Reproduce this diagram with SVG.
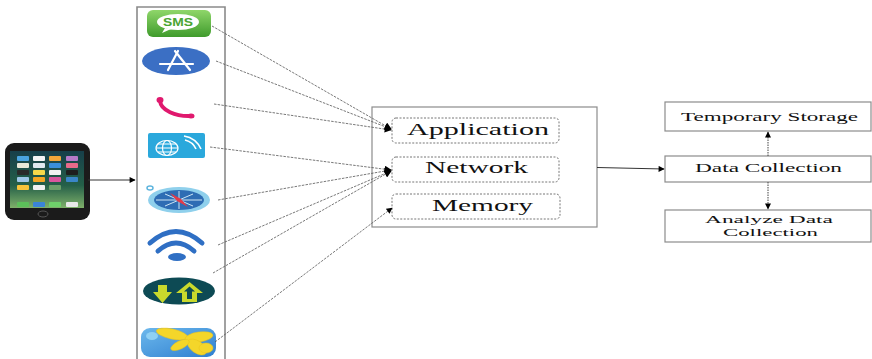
<svg xmlns="http://www.w3.org/2000/svg" width="872" height="359" viewBox="0 0 872 359">
  <style>
    .frame { fill: none; stroke: #8a8a8a; stroke-width: 1.6; }
    .box { fill: #ffffff; stroke: #8c8c8c; stroke-width: 1.2; }
    .sub { fill: #ffffff; stroke: #777777; stroke-width: 1; stroke-dasharray: 2 1.5; }
    .lbl { font-family: "Liberation Serif", "Times New Roman", serif; fill: #111111; }
    .big { font-size: 16px; }
    .small { font-size: 12px; }
    .tiny { font-size: 11px; }
    .link { fill: none; stroke: #555555; stroke-width: 0.8; stroke-dasharray: 2.5 1.2; }
    .solid { fill: none; stroke: #333333; stroke-width: 1; }
    .dot { fill: none; stroke: #444444; stroke-width: 1; stroke-dasharray: 1.5 1; }
  </style>
  <defs>
    <marker id="head" viewBox="0 0 10 10" refX="9" refY="5" markerWidth="7" markerHeight="6" orient="auto" markerUnits="userSpaceOnUse">
      <path d="M0,0 L10,5 L0,10 Z" fill="#000000"/>
    </marker>
    <marker id="headBig" viewBox="0 0 10 10" refX="9" refY="5" markerWidth="9" markerHeight="7" orient="auto" markerUnits="userSpaceOnUse">
      <path d="M0,0 L10,5 L0,10 Z" fill="#000000"/>
    </marker>
    <linearGradient id="smsG" x1="0" y1="0" x2="0" y2="1">
      <stop offset="0" stop-color="#8fd66a"/>
      <stop offset="1" stop-color="#3f9b2c"/>
    </linearGradient>
    <linearGradient id="photoG" x1="0" y1="0" x2="1" y2="1">
      <stop offset="0" stop-color="#6cb8ec"/>
      <stop offset="1" stop-color="#2f7fd0"/>
    </linearGradient>
    <linearGradient id="screenG" x1="0" y1="0" x2="0" y2="1">
      <stop offset="0" stop-color="#173f4a"/>
      <stop offset="0.6" stop-color="#245f48"/>
      <stop offset="1" stop-color="#7fb06a"/>
    </linearGradient>
  </defs>

  <!-- handset -->
  <g id="phone">
    <rect x="5" y="143" width="85" height="77" rx="9" fill="#1b1b1b"/>
    <rect x="10" y="151" width="74" height="57" fill="url(#screenG)"/>
    <g>
      <rect x="17" y="156" width="12" height="5" rx="1" fill="#4aa3df"/>
      <rect x="33" y="156" width="12" height="5" rx="1" fill="#f4f4f4"/>
      <rect x="49" y="156" width="12" height="5" rx="1" fill="#f0a63a"/>
      <rect x="66" y="156" width="12" height="5" rx="1" fill="#b77ac8"/>
      <rect x="17" y="163" width="12" height="5" rx="1" fill="#e8e8d8"/>
      <rect x="33" y="163" width="12" height="5" rx="1" fill="#dfe9f0"/>
      <rect x="49" y="163" width="12" height="5" rx="1" fill="#3a8fd8"/>
      <rect x="66" y="163" width="12" height="5" rx="1" fill="#e86a8a"/>
      <rect x="17" y="170" width="12" height="5" rx="1" fill="#2a2a2a"/>
      <rect x="33" y="170" width="12" height="5" rx="1" fill="#f7d84a"/>
      <rect x="49" y="170" width="12" height="5" rx="1" fill="#f2f2f2"/>
      <rect x="66" y="170" width="12" height="5" rx="1" fill="#1e1e1e"/>
      <rect x="17" y="177" width="12" height="5" rx="1" fill="#9ec7e8"/>
      <rect x="33" y="177" width="12" height="5" rx="1" fill="#f5a623"/>
      <rect x="49" y="177" width="12" height="5" rx="1" fill="#d9569e"/>
      <rect x="66" y="177" width="12" height="5" rx="1" fill="#3a86c8"/>
      <rect x="17" y="185" width="12" height="5" rx="1" fill="#f6c33b"/>
      <rect x="33" y="185" width="12" height="5" rx="1" fill="#f1f1f1"/>
      <rect x="49" y="185" width="12" height="5" rx="1" fill="#6aa06a"/>
      <rect x="17" y="202" width="12" height="5" rx="1" fill="#5cc05a"/>
      <rect x="33" y="202" width="12" height="5" rx="1" fill="#3a84d8"/>
      <rect x="49" y="202" width="12" height="5" rx="1" fill="#6ed06a"/>
      <rect x="66" y="202" width="12" height="5" rx="1" fill="#e8e8e8"/>
    </g>
    <ellipse cx="43" cy="214" rx="5" ry="3" fill="none" stroke="#555555" stroke-width="1"/>
  </g>

  <!-- app column -->
  <g id="apps">
    <path class="frame" d="M137,359 V7 H225 V359"/>

    <!-- messages -->
    <rect x="147" y="10" width="64" height="27" rx="6" fill="url(#smsG)"/>
    <ellipse cx="178" cy="22" rx="21" ry="8" fill="#ffffff"/>
    <path d="M165,28 L162,33 L171,29 Z" fill="#ffffff"/>
    <text x="178" y="26" text-anchor="middle" font-family="Liberation Sans, Arial, sans-serif" font-size="11" font-weight="bold" fill="#4aa532" textLength="30" lengthAdjust="spacingAndGlyphs">SMS</text>

    <!-- store -->
    <ellipse cx="176" cy="61" rx="34" ry="14" fill="#3b6fc4"/>
    <g stroke="#ffffff" stroke-width="2.2" stroke-linecap="round" fill="none">
      <path d="M168,70 L178,51"/>
      <path d="M175,51 L190,70"/>
      <path d="M160,64 L193,64"/>
    </g>

    <!-- phone call -->
    <path d="M160,101 C161,110 175,117 192,116" fill="none" stroke="#e0196e" stroke-width="4" stroke-linecap="round"/>
    <ellipse cx="160" cy="100" rx="3.5" ry="3" fill="#e0196e"/>
    <ellipse cx="191" cy="116" rx="3.5" ry="2.5" fill="#e0196e"/>

    <!-- web -->
    <rect x="148" y="133" width="57" height="25" rx="2" fill="#2aa8dc"/>
    <g stroke="#ffffff" stroke-width="1.2" fill="none">
      <ellipse cx="167" cy="148" rx="11" ry="7.5"/>
      <ellipse cx="167" cy="148" rx="4.5" ry="7.5"/>
      <path d="M156,148 H178 M158,144 H176 M158,152 H176"/>
      <path d="M185,140 Q193,142 196,149" stroke-width="1.6"/>
      <path d="M184,136 Q196,138 201,149" stroke-width="1.6"/>
    </g>

    <!-- compass -->
    <ellipse cx="150" cy="188" rx="3" ry="2" fill="none" stroke="#5fb5de" stroke-width="1.5"/>
    <ellipse cx="179" cy="200" rx="31" ry="13" fill="#8fd0ec"/>
    <ellipse cx="179" cy="200" rx="25" ry="10" fill="#2e6db4"/>
    <g stroke="#dff2fb" stroke-width="0.9">
      <path d="M179,191 V209 M156,200 H202 M165,194 L193,206 M165,206 L193,194"/>
    </g>
    <path d="M170,193 L181,199 L188,207 L177,201 Z" fill="#e23b4a"/>

    <!-- wireless -->
    <g fill="none" stroke="#2f6fc4" stroke-width="5" stroke-linecap="round">
      <path d="M150,243 Q176,220 202,243"/>
      <path d="M158,251 Q176,235 194,251"/>
    </g>
    <ellipse cx="177" cy="257" rx="9" ry="4" fill="#2f6fc4"/>

    <!-- transfer -->
    <ellipse cx="179" cy="291" rx="36" ry="13.5" fill="#0d4a54"/>
    <path d="M158,285 H167 V292 H172 L162.5,303 L153,292 H158 Z" fill="#c9d92c"/>
    <path d="M189.5,282 L203,293 H197 V302 H182 V293 H176 Z" fill="#c9d92c"/>
    <path d="M189.5,286.5 L195,291.5 H192 V299 H187 V291.5 H184 Z" fill="#0d4a54"/>

    <!-- photos -->
    <rect x="141" y="328" width="75" height="29" rx="9" fill="url(#photoG)"/>
    <g fill="#f4d62a" stroke="#e8c21c" stroke-width="0.5">
      <ellipse cx="172" cy="334" rx="16" ry="5" transform="rotate(12 172 334)"/>
      <ellipse cx="199" cy="337" rx="14" ry="5" transform="rotate(-8 199 337)"/>
      <ellipse cx="197" cy="347" rx="11" ry="6" transform="rotate(35 197 347)"/>
      <ellipse cx="180" cy="345" rx="10" ry="4" transform="rotate(-25 180 345)"/>
      <ellipse cx="206" cy="348" rx="7" ry="5"/>
    </g>
    <ellipse cx="152" cy="336" rx="6" ry="4" fill="#8fd0f4"/>
  </g>

  <!-- aspects box -->
  <g id="aspects">
    <rect class="box" x="372" y="107" width="225" height="120"/>
  </g>
  <g id="application">
    <rect class="sub" x="392" y="118" width="167" height="25" rx="4"/>
    <text class="lbl big" x="407" y="135" textLength="142" lengthAdjust="spacingAndGlyphs">Application</text>
  </g>
  <g id="network">
    <rect class="sub" x="392" y="157" width="167" height="25" rx="4"/>
    <text class="lbl big" x="425" y="173" textLength="103" lengthAdjust="spacingAndGlyphs">Network</text>
  </g>
  <g id="memory">
    <rect class="sub" x="392" y="194" width="168" height="25" rx="4"/>
    <text class="lbl big" x="432" y="211" textLength="101" lengthAdjust="spacingAndGlyphs">Memory</text>
  </g>

  <!-- collection side -->
  <g id="temporary-storage">
    <rect class="box" x="665" y="102" width="206" height="29"/>
    <text class="lbl small" x="681" y="121" textLength="177" lengthAdjust="spacingAndGlyphs">Temporary Storage</text>
  </g>
  <g id="data-collection">
    <rect class="box" x="665" y="156" width="206" height="26"/>
    <text class="lbl small" x="695" y="172" textLength="147" lengthAdjust="spacingAndGlyphs">Data Collection</text>
  </g>
  <g id="analyze">
    <rect class="box" x="665" y="210" width="206" height="32"/>
    <text class="lbl tiny" x="705" y="223" textLength="128" lengthAdjust="spacingAndGlyphs">Analyze Data</text>
    <text class="lbl tiny" x="723" y="236" textLength="95" lengthAdjust="spacingAndGlyphs">Collection</text>
  </g>

  <!-- connectors -->
  <g id="connectors">
    <line class="solid" x1="88" y1="180" x2="135" y2="180" marker-end="url(#head)"/>

    <line class="link" x1="212" y1="26" x2="391" y2="129" marker-end="url(#headBig)"/>
    <line class="link" x1="216" y1="61" x2="391" y2="129" marker-end="url(#headBig)"/>
    <line class="link" x1="214" y1="104" x2="391" y2="130" marker-end="url(#headBig)"/>

    <line class="link" x1="210" y1="147" x2="391" y2="170" marker-end="url(#headBig)"/>
    <line class="link" x1="218" y1="200" x2="391" y2="170" marker-end="url(#headBig)"/>
    <line class="link" x1="218" y1="245" x2="391" y2="171" marker-end="url(#headBig)"/>
    <line class="link" x1="213" y1="273" x2="391" y2="171" marker-end="url(#headBig)"/>

    <line class="link" x1="215" y1="342" x2="392" y2="208" marker-end="url(#head)"/>

    <line class="solid" x1="597" y1="167.5" x2="664" y2="169" marker-end="url(#head)"/>
    <line class="dot" x1="768" y1="156" x2="768" y2="132" marker-end="url(#head)"/>
    <line class="dot" x1="768" y1="182" x2="768" y2="209" marker-end="url(#head)"/>
  </g>
</svg>
